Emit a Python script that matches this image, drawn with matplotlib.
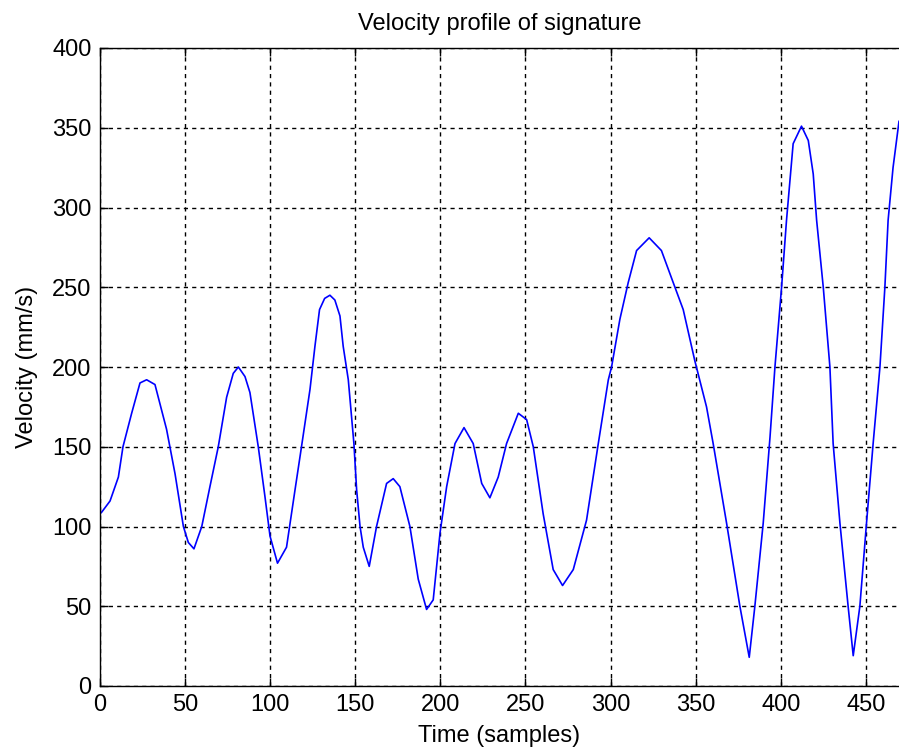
import matplotlib.pyplot as plt

# samples
time_samples = [0, 1, 5.9, 10.8, 13.5, 18.6, 23.5, 27.4, 32.3, 39.1, 44.1, 49, 51.9, 55.2,
                59.8, 64.6, 69.5, 74.4, 78.3, 81.3, 85.2, 88.1, 93, 96.9, 99.9, 104.3,
                109.6, 114.6, 118.4, 123.4, 126.3, 129, 132, 135.1, 138, 141, 142.9,
                145.9, 149.2, 150.8, 152.8, 154.7, 158.2, 162.5, 168.4, 172.3, 176.2,
                182.1, 187, 191.9, 195.8, 199.8, 203.7, 208.6, 213.9, 219.3, 224.3,
                229.1, 234, 238.9, 245.8, 250.7, 254.6, 260.4, 266.3, 271.8, 278.1,
                285.9, 292.8, 298.7, 300.6, 305.5, 310.4, 315.3, 322.7, 329.9, 336.8,
                342.7, 349.5, 356.4, 360.3, 368.2, 376, 381.5, 384.8, 389.7, 393.7,
                396.6, 400.5, 403.4, 407.3, 412.2, 416.2, 419.1, 421.1, 425, 428.9,
                430.8, 434.8, 439.6, 442.6, 446.5, 450.4, 454.3, 458.3, 461.2, 463.1,
                466, 469.5]
velocity = [108, 109, 116, 131, 150, 171, 190, 192, 189, 161, 133, 100, 90, 86,
            100, 125, 150, 181, 196, 200, 194, 184, 150, 119, 94, 77,
            87, 123, 150, 186, 213, 236, 243, 245, 242, 232, 213,
            192, 152, 123, 100, 87, 75, 100, 127, 130, 125,
            100, 67, 48, 54, 96, 125, 152, 162, 152, 127,
            118, 131, 152, 171, 167, 150, 108, 73, 63, 73,
            104, 152, 192, 200, 230, 253, 273, 281, 273, 253,
            236, 204, 175, 152, 102, 50, 18, 50, 102, 156,
            200, 250, 292, 340, 351, 342, 321, 292, 250, 200,
            152, 102, 50, 19, 50, 102, 152, 200, 250, 292,
            325, 354]

x_ticks = [0, 50, 100, 150, 200, 250, 300, 350, 400, 450]
y_ticks = [0, 50, 100, 150, 200, 250, 300, 350, 400]

plt.rcParams['font.family'] = ['Liberation Sans', 'DejaVu Sans']
plt.rcParams['font.size'] = 17

fig = plt.figure(figsize=(8.99, 7.55), dpi=100)
ax = fig.add_axes([100 / 899, 1 - 686 / 755, 1 - 100 / 899, (686 - 48) / 755])

ax.plot(time_samples, velocity, color='#0000ff', linewidth=1.2)

ax.set_xlim(0, 469.5)
ax.set_ylim(0, 400)
ax.set_xticks(x_ticks)
ax.set_yticks(y_ticks)
ax.grid(True, color='black', linestyle=(0, (3, 3)), linewidth=1)
ax.tick_params(direction='in', length=6, width=1, top=True, right=False, pad=6,
               labelsize=17)
ax.spines['right'].set_visible(False)
for s in ['left', 'bottom', 'top']:
    ax.spines[s].set_linewidth(1)

ax.set_title('Velocity profile of signature', fontsize=17, pad=13)
ax.set_xlabel('Time (samples)', fontsize=17, labelpad=6)
ax.set_ylabel('Velocity (mm/s)', fontsize=17, labelpad=10)

fig.savefig('out.png', dpi=100)
